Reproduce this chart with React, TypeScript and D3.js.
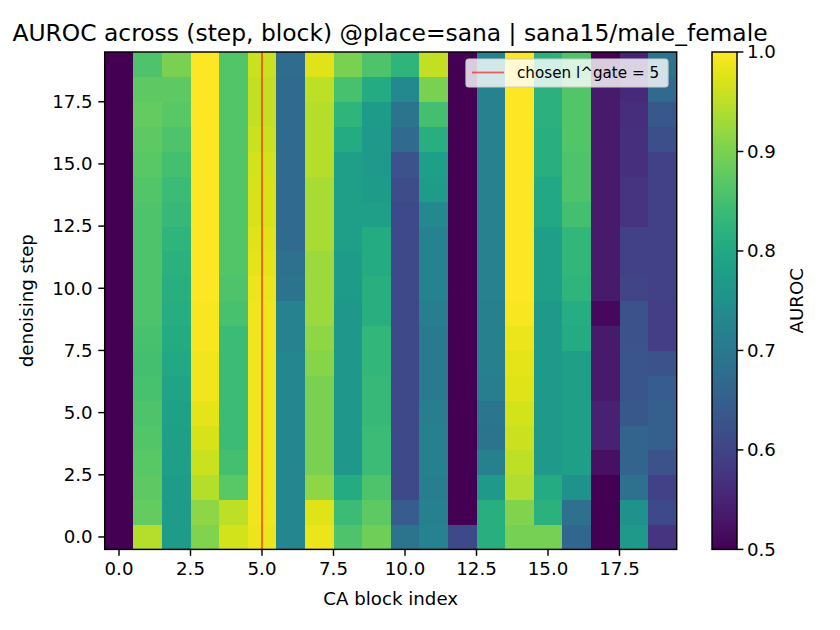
import React from "react";
import * as d3 from "d3";

// AUROC per CA block (outer index 0..19), listed by denoising step 0..19
const aurocByBlock: number[][] = [
  [0.5, 0.5, 0.5, 0.5, 0.5, 0.5, 0.5, 0.5, 0.5, 0.5, 0.5, 0.5, 0.5, 0.5, 0.5, 0.5, 0.5, 0.5, 0.5, 0.5],
  [0.945, 0.88, 0.875, 0.87, 0.865, 0.86, 0.855, 0.85, 0.855, 0.86, 0.86, 0.86, 0.86, 0.86, 0.865, 0.87, 0.875, 0.88, 0.875, 0.86],
  [0.775, 0.775, 0.775, 0.78, 0.78, 0.785, 0.79, 0.8, 0.805, 0.81, 0.815, 0.82, 0.825, 0.835, 0.84, 0.85, 0.86, 0.87, 0.875, 0.9],
  [0.905, 0.915, 0.945, 0.96, 0.97, 0.98, 0.99, 0.99, 0.995, 0.995, 1, 1, 1, 1, 1, 1, 1, 1, 1, 1],
  [0.965, 0.95, 0.87, 0.85, 0.84, 0.84, 0.84, 0.84, 0.84, 0.855, 0.86, 0.865, 0.865, 0.865, 0.865, 0.865, 0.865, 0.865, 0.865, 0.865],
  [0.985, 0.99, 0.99, 0.99, 0.99, 0.99, 0.99, 0.99, 0.99, 0.99, 0.985, 0.98, 0.975, 0.97, 0.97, 0.965, 0.96, 0.955, 0.955, 0.96],
  [0.73, 0.73, 0.73, 0.73, 0.73, 0.73, 0.73, 0.73, 0.72, 0.72, 0.69, 0.685, 0.67, 0.67, 0.67, 0.67, 0.67, 0.67, 0.67, 0.675],
  [0.985, 0.975, 0.915, 0.9, 0.9, 0.9, 0.9, 0.91, 0.915, 0.925, 0.925, 0.925, 0.935, 0.935, 0.935, 0.945, 0.945, 0.945, 0.95, 0.975],
  [0.86, 0.84, 0.805, 0.765, 0.765, 0.765, 0.765, 0.765, 0.765, 0.765, 0.775, 0.775, 0.78, 0.78, 0.78, 0.78, 0.805, 0.825, 0.855, 0.9],
  [0.89, 0.875, 0.86, 0.84, 0.84, 0.835, 0.835, 0.83, 0.83, 0.815, 0.815, 0.805, 0.805, 0.78, 0.775, 0.77, 0.77, 0.775, 0.805, 0.86],
  [0.69, 0.645, 0.61, 0.61, 0.61, 0.61, 0.61, 0.61, 0.61, 0.61, 0.61, 0.61, 0.61, 0.61, 0.615, 0.625, 0.67, 0.69, 0.735, 0.825],
  [0.72, 0.715, 0.71, 0.715, 0.715, 0.71, 0.705, 0.705, 0.705, 0.71, 0.72, 0.72, 0.72, 0.735, 0.775, 0.78, 0.815, 0.85, 0.9, 0.955],
  [0.61, 0.5, 0.5, 0.5, 0.5, 0.5, 0.5, 0.5, 0.5, 0.5, 0.5, 0.5, 0.5, 0.5, 0.5, 0.5, 0.5, 0.5, 0.5, 0.5],
  [0.815, 0.815, 0.77, 0.715, 0.69, 0.695, 0.71, 0.715, 0.715, 0.715, 0.72, 0.72, 0.72, 0.72, 0.72, 0.72, 0.72, 0.72, 0.72, 0.72],
  [0.895, 0.905, 0.94, 0.95, 0.96, 0.965, 0.975, 0.98, 0.985, 0.995, 1, 1, 1, 1, 1, 1, 1, 1, 1, 1],
  [0.895, 0.82, 0.805, 0.77, 0.77, 0.77, 0.77, 0.77, 0.77, 0.77, 0.78, 0.78, 0.78, 0.8, 0.8, 0.815, 0.815, 0.82, 0.82, 0.82],
  [0.665, 0.685, 0.755, 0.78, 0.78, 0.78, 0.78, 0.78, 0.805, 0.81, 0.825, 0.83, 0.83, 0.85, 0.86, 0.86, 0.865, 0.865, 0.865, 0.86],
  [0.5, 0.5, 0.5, 0.52, 0.545, 0.545, 0.535, 0.535, 0.535, 0.51, 0.535, 0.535, 0.535, 0.535, 0.535, 0.535, 0.535, 0.535, 0.535, 0.5],
  [0.77, 0.755, 0.685, 0.66, 0.66, 0.635, 0.63, 0.63, 0.625, 0.625, 0.6, 0.595, 0.595, 0.575, 0.575, 0.57, 0.57, 0.565, 0.555, 0.55],
  [0.575, 0.61, 0.595, 0.625, 0.65, 0.65, 0.645, 0.625, 0.59, 0.59, 0.595, 0.595, 0.595, 0.595, 0.595, 0.595, 0.62, 0.635, 0.67, 0.69],
];

const xTicks = [0, 2.5, 5, 7.5, 10, 12.5, 15, 17.5];
const yTicks = [0, 2.5, 5, 7.5, 10, 12.5, 15, 17.5];
const cbarTicks = [0.5, 0.6, 0.7, 0.8, 0.9, 1.0];
const chosenGate = 5;

const titleText = "AUROC across (step, block) @place=sana | sana15/male_female";
const xLabel = "CA block index";
const yLabel = "denoising step";
const cbarLabel = "AUROC";
const legendLabel = `chosen l^gate = ${chosenGate}`;

const W = 840;
const H = 630;
const plot = { left: 104.7, right: 676.7, top: 52, bottom: 549.4 };
const cbar = { left: 712, right: 737, top: 52, bottom: 549.4 };
const font = "'DejaVu Sans', sans-serif";
const tickFs = 18.2;
const lw = 1.46;
const tickLen = 6.4;

export default function App() {
  const nBlocks = aurocByBlock.length;
  const nSteps = aurocByBlock[0].length;
  const x = d3.scaleLinear().domain([-0.5, nBlocks - 0.5]).range([plot.left, plot.right]);
  const y = d3.scaleLinear().domain([-0.5, nSteps - 0.5]).range([plot.bottom, plot.top]);
  const color = d3.scaleSequential(d3.interpolateViridis).domain([0.5, 1.0]).clamp(true);
  const cy = d3.scaleLinear().domain([0.5, 1.0]).range([cbar.bottom, cbar.top]);
  const fmt = d3.format(".1f");

  const cells: React.ReactElement[] = [];
  aurocByBlock.forEach((col, b) => {
    col.forEach((v, s) => {
      const x0 = x(b - 0.5);
      const x1 = x(b + 0.5);
      const y0 = y(s + 0.5);
      const y1 = y(s - 0.5);
      cells.push(
        <rect
          key={`${b}-${s}`}
          x={x0}
          y={y0}
          width={x1 - x0 + 0.5}
          height={y1 - y0 + 0.5}
          fill={color(v)}
        />
      );
    });
  });

  const gradStops = d3.range(0, 1.0001, 0.05);

  return (
    <svg
      width={W}
      height={H}
      viewBox={`0 0 ${W} ${H}`}
      style={{ position: "absolute", left: 0, top: 0, background: "#fff" }}
      fontFamily={font}
    >
      <defs>
        <linearGradient id="viridisGrad" x1="0" y1="1" x2="0" y2="0">
          {gradStops.map((t) => (
            <stop key={t} offset={t} stopColor={d3.interpolateViridis(t)} />
          ))}
        </linearGradient>
        <clipPath id="plotClip">
          <rect x={plot.left} y={plot.top} width={plot.right - plot.left} height={plot.bottom - plot.top} />
        </clipPath>
      </defs>

      <text x={390} y={41} fontSize={23.4} textAnchor="middle" fill="#000">
        {titleText}
      </text>

      <g clipPath="url(#plotClip)" shapeRendering="crispEdges">{cells}</g>

      <line
        x1={x(chosenGate)}
        x2={x(chosenGate)}
        y1={plot.top}
        y2={plot.bottom}
        stroke="red"
        strokeOpacity={0.6}
        strokeWidth={1.8}
      />

      <rect
        x={plot.left}
        y={plot.top}
        width={plot.right - plot.left}
        height={plot.bottom - plot.top}
        fill="none"
        stroke="#000"
        strokeWidth={lw}
      />

      {xTicks.map((t) => (
        <g key={`xt${t}`}>
          <line x1={x(t)} x2={x(t)} y1={plot.bottom} y2={plot.bottom + tickLen} stroke="#000" strokeWidth={lw} />
          <text x={x(t)} y={plot.bottom + 26} fontSize={tickFs} textAnchor="middle">
            {fmt(t)}
          </text>
        </g>
      ))}
      {yTicks.map((t) => (
        <g key={`yt${t}`}>
          <line x1={plot.left - tickLen} x2={plot.left} y1={y(t)} y2={y(t)} stroke="#000" strokeWidth={lw} />
          <text x={plot.left - 12} y={y(t)} dy="0.35em" fontSize={tickFs} textAnchor="end">
            {fmt(t)}
          </text>
        </g>
      ))}

      <text x={(plot.left + plot.right) / 2} y={605} fontSize={tickFs} textAnchor="middle">
        {xLabel}
      </text>
      <text
        transform={`translate(33, ${(plot.top + plot.bottom) / 2}) rotate(-90)`}
        fontSize={tickFs}
        textAnchor="middle"
      >
        {yLabel}
      </text>

      <g>
        <rect x={466} y={59} width={202} height={28} rx={3} fill="#fff" fillOpacity={0.8} stroke="#cccccc" strokeWidth={1.2} />
        <line x1={472} x2={504} y1={72.5} y2={72.5} stroke="red" strokeOpacity={0.6} strokeWidth={1.8} />
        <text x={517} y={78} fontSize={15.2}>
          {legendLabel}
        </text>
      </g>

      <rect
        x={cbar.left}
        y={cbar.top}
        width={cbar.right - cbar.left}
        height={cbar.bottom - cbar.top}
        fill="url(#viridisGrad)"
      />
      <rect
        x={cbar.left}
        y={cbar.top}
        width={cbar.right - cbar.left}
        height={cbar.bottom - cbar.top}
        fill="none"
        stroke="#000"
        strokeWidth={lw}
      />
      {cbarTicks.map((t) => (
        <g key={`ct${t}`}>
          <line x1={cbar.right} x2={cbar.right + tickLen} y1={cy(t)} y2={cy(t)} stroke="#000" strokeWidth={lw} />
          <text x={cbar.right + 10} y={cy(t)} dy="0.35em" fontSize={tickFs}>
            {fmt(t)}
          </text>
        </g>
      ))}
      <text
        transform={`translate(803, ${(cbar.top + cbar.bottom) / 2}) rotate(-90)`}
        fontSize={tickFs}
        textAnchor="middle"
      >
        {cbarLabel}
      </text>
    </svg>
  );
}
